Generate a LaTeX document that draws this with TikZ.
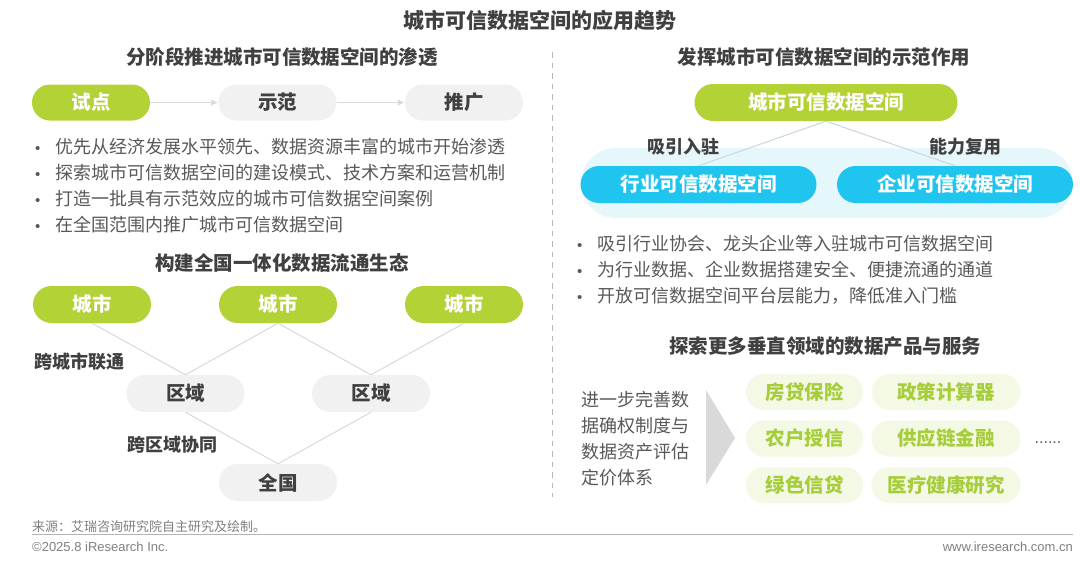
\documentclass[tikz,border=0pt]{standalone}
\usepackage{fontspec}
\setmainfont{Noto Sans CJK SC}
\newfontfamily\latinfont{Liberation Sans}
\usetikzlibrary{arrows.meta}
\definecolor{cgreen}{HTML}{B3D236}
\definecolor{cgrey}{HTML}{F1F1F1}
\definecolor{cdark}{HTML}{404040}
\definecolor{cbody}{HTML}{595959}
\definecolor{cline}{HTML}{D9D9D9}
\definecolor{ccyan}{HTML}{1FC5EE}
\definecolor{cbg}{HTML}{E6F7FC}
\definecolor{cblueline}{HTML}{C7D7DE}
\definecolor{cpfill}{HTML}{F4F9E5}
\definecolor{cptext}{HTML}{A6CD3A}
\definecolor{cfoot}{HTML}{808080}
\definecolor{crule}{HTML}{B4B4B4}
\newcommand{\fsz}[1]{\fontsize{#1pt}{1.2\dimexpr#1pt\relax}\selectfont}
\tikzset{
  titlefont/.style={font={\fsz{21}\bfseries}, text=cdark, inner sep=0pt},
  subhead/.style={font={\fsz{19.5}\bfseries}, text=cdark, inner sep=0pt},
  pill/.style={rectangle, rounded corners=18pt, minimum height=36pt, minimum width=118pt, inner sep=0pt, font={\fsz{19.5}\bfseries}},
  gpill/.style={pill, fill=cgreen, text=white},
  wpill/.style={pill, fill=cgrey, text=cdark},
  bpill/.style={pill, rounded corners=18.5pt, minimum height=37pt, minimum width=236pt, fill=ccyan, text=white},
  ppill/.style={pill, fill=cpfill, text=cptext},
  bullettext/.style={anchor=west, inner sep=0pt, font={\fsz{18}}, text=cbody},
  sidelabel/.style={inner sep=0pt, font={\fsz{18}\bfseries}, text=cdark},
  conn/.style={draw=cline, line width=1pt},
  bconn/.style={draw=cblueline, line width=1pt},
  arr/.style={draw=cline, line width=1pt, -{Triangle[length=6pt,width=6pt]}},
  foot/.style={inner sep=0pt, font={\latinfont\fsz{13}}, text=cfoot},
}
\newcommand{\bul}{\makebox[20pt][l]{\latinfont\fsz{15}•}}
\begin{document}
\begin{tikzpicture}[x=1pt,y=-1pt]
\useasboundingbox[fill=white] (0,0) rectangle (1080,562);

% Title
\node[titlefont] (title) at (540,20) {城市可信数据空间的应用趋势};

% ---------- Left column ----------
\node[subhead] (sub1) at (282,57) {分阶段推进城市可信数据空间的渗透};
\node[gpill] (shidian) at (91,102.5) {试点};
\node[wpill] (shifan) at (277.5,102.5) {示范};
\node[wpill] (tuiguang) at (464,102.5) {推广};
\draw[arr, shorten >=1pt] (shidian.east) -- (shifan.west);
\draw[arr, shorten >=1pt] (shifan.east) -- (tuiguang.west);

\node[bullettext] (lb1) at (35,147) {\bul 优先从经济发展水平领先、数据资源丰富的城市开始渗透};
\node[bullettext] (lb2) at (35,173) {\bul 探索城市可信数据空间的建设模式、技术方案和运营机制};
\node[bullettext] (lb3) at (35,199) {\bul 打造一批具有示范效应的城市可信数据空间案例};
\node[bullettext] (lb4) at (35,225) {\bul 在全国范围内推广城市可信数据空间};

\node[subhead] (sub2) at (282,263) {构建全国一体化数据流通生态};
\node[gpill, minimum height=37pt, rounded corners=18.5pt] (c1) at (92,304.5) {城市};
\node[gpill, minimum height=37pt, rounded corners=18.5pt] (c2) at (278,304.5) {城市};
\node[gpill, minimum height=37pt, rounded corners=18.5pt] (c3) at (464,304.5) {城市};
\node[wpill, minimum height=37pt, rounded corners=18.5pt] (r1) at (185.5,393.5) {区域};
\node[wpill, minimum height=37pt, rounded corners=18.5pt] (r2) at (371,393.5) {区域};
\node[wpill, minimum height=37pt, rounded corners=18.5pt] (nat) at (278,482.5) {全国};
\draw[conn] (c1.south) -- (r1.north);
\draw[conn] (c2.south) -- (r1.north);
\draw[conn] (c2.south) -- (r2.north);
\draw[conn] (c3.south) -- (r2.north);
\draw[conn] (r1.south) -- (nat.north);
\draw[conn] (r2.south) -- (nat.north);
\node[sidelabel, anchor=west] (lab1) at (34,362) {跨城市联通};
\node[sidelabel, anchor=west] (lab2) at (127,445) {跨区域协同};

% separator
\draw[draw=cline!85!black, line width=1pt, dash pattern=on 5.5pt off 5pt] (552,52) -- (552,497);

% ---------- Right column ----------
\node[subhead] (sub3) at (824,57) {发挥城市可信数据空间的示范作用};
\node[rectangle, rounded corners=35pt, minimum width=492pt, minimum height=70pt, inner sep=0pt, fill=cbg] (bg) at (827,183) {};
\node[gpill, minimum width=263pt, minimum height=37pt, rounded corners=18.5pt] (city) at (826,102.5) {城市可信数据空间};
\node[bpill] (hangye) at (698.5,184.5) {行业可信数据空间};
\node[bpill] (qiye) at (955,184.5) {企业可信数据空间};
\draw[bconn] (city.south) -- (hangye.north);
\draw[bconn] (city.south) -- (qiye.north);
\node[sidelabel] (lab3) at (683,147) {吸引入驻};
\node[sidelabel] (lab4) at (965,147) {能力复用};

\node[bullettext] (rb1) at (577,244) {\bul 吸引行业协会、龙头企业等入驻城市可信数据空间};
\node[bullettext] (rb2) at (577,270) {\bul 为行业数据、企业数据搭建安全、便捷流通的通道};
\node[bullettext] (rb3) at (577,296) {\bul 开放可信数据空间平台层能力，降低准入门槛};

\node[subhead] (sub4) at (825,346) {探索更多垂直领域的数据产品与服务};
\node[anchor=west, inner sep=0pt, align=left, font={\fontsize{18pt}{26pt}\selectfont}, text=cbody] (desc) at (581,439) {进一步完善数\\据确权制度与\\数据资产评估\\定价体系};
\fill[cline] (706,390) -- (735,438) -- (706,485) -- cycle;

\node[ppill, minimum width=117pt] (p1) at (804.5,392) {房贷保险};
\node[ppill, minimum width=149pt] (p2) at (946,392) {政策计算器};
\node[ppill, minimum width=117pt] (p3) at (804.5,438.5) {农户授信};
\node[ppill, minimum width=149pt] (p4) at (946,438.5) {供应链金融};
\node[ppill, minimum width=117pt] (p5) at (804.5,485) {绿色信贷};
\node[ppill, minimum width=149pt] (p6) at (946,485) {医疗健康研究};
\node[inner sep=0pt, font={\latinfont\fsz{16}}, text=cbody] (dots) at (1048,443) {......};

% ---------- Footer ----------
\node[inner sep=0pt, anchor=west, font={\fsz{13}}, text=cfoot] (src) at (32,527) {来源：艾瑞咨询研究院自主研究及绘制。};
\draw[draw=crule, line width=1.2pt] (32,534.5) -- (1073,534.5);
\node[foot, anchor=west] (copy) at (32,546.5) {©2025.8 iResearch Inc.};
\node[foot, anchor=east] (web) at (1073,546.5) {www.iresearch.com.cn};
\end{tikzpicture}
\end{document}
